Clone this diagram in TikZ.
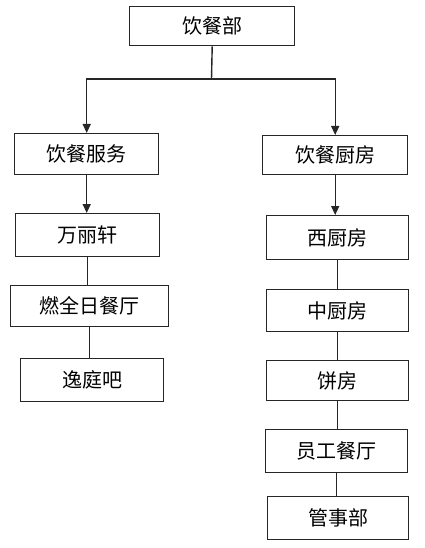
\documentclass[tikz,border=0pt]{standalone}
\usepackage{fontspec}
\setmainfont{Noto Sans CJK SC}
\usetikzlibrary{arrows.meta}
\begin{document}
\begin{tikzpicture}[x=1pt,y=-1pt,
  box/.style={draw=black!85,line width=1.4pt,inner sep=0pt,anchor=north west,font=\fontsize{20}{24}\selectfont},
  conn/.style={draw=black!85,line width=1.4pt},
  arr/.style={conn,-{Triangle[width=8pt,length=9pt]}}]
\useasboundingbox (0,0) rectangle (424,548);
\newcommand{\bx}[6]{\node[box,minimum width={#4-#2},minimum height={#5-#3}] (#1) at (#2,#3) {#6};}
\bx{top}{129}{6}{294}{45}{饮餐部}
\bx{L1}{14}{133}{158}{174}{饮餐服务}
\bx{L2}{15}{213}{159}{256}{万丽轩}
\bx{L3}{10}{285}{168}{326}{燃全日餐厅}
\bx{L4}{20}{358}{163}{401}{逸庭吧}
\bx{R1}{262}{135}{407}{174}{饮餐厨房}
\bx{R2}{266}{215}{408}{259}{西厨房}
\bx{R3}{266}{289}{408}{331}{中厨房}
\bx{R4}{266}{360}{408}{400}{饼房}
\bx{R5}{265}{429}{407}{472}{员工餐厅}
\bx{R6}{267}{496}{408}{539}{管事部}
\coordinate (bus) at (211.5,79);
\draw[conn] (top.south) -- (bus);
\draw[arr] (bus) -| (L1.north);
\draw[arr] (bus) -| (R1.north);
\draw[arr] (L1.south) -- (L1.south |- L2.north);
\draw[conn] (L2.south) -- (L2.south |- L3.north);
\draw[conn] (L3.south) -- (L3.south |- L4.north);
\draw[arr] (R1.south) -- (R1.south |- R2.north);
\draw[conn] (R2.south) -- (R2.south |- R3.north);
\draw[conn] (R3.south) -- (R3.south |- R4.north);
\draw[conn] (R4.south) -- (R4.south |- R5.north);
\draw[conn] (R5.south) -- (R5.south |- R6.north);
\end{tikzpicture}
\end{document}
